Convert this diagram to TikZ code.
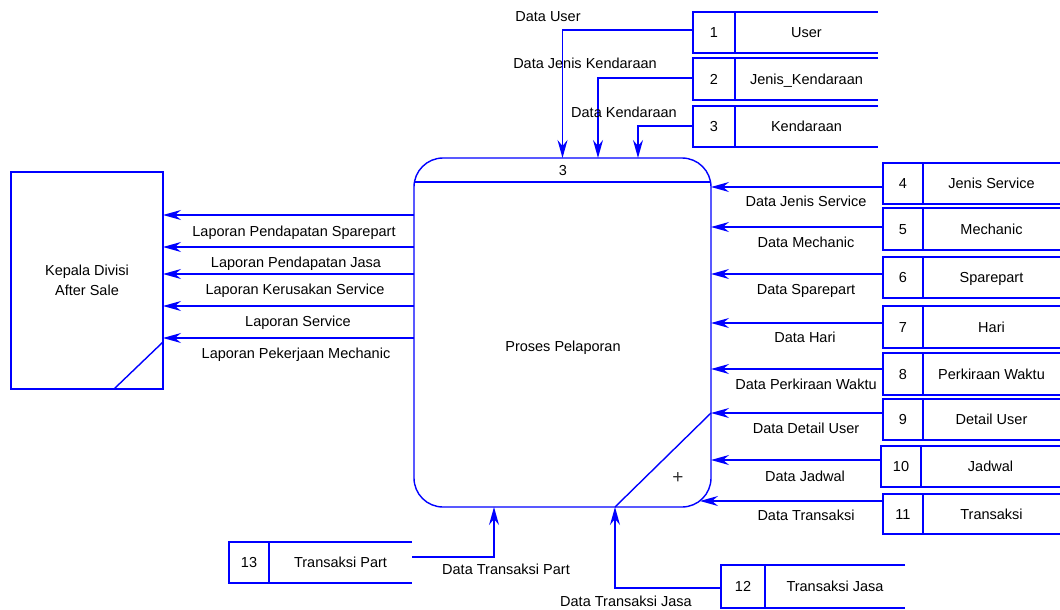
\documentclass[tikz,border=0pt]{standalone}
\usepackage{fontspec}
\setmainfont{Liberation Sans}
\usetikzlibrary{arrows.meta}
\definecolor{dfdblue}{RGB}{0,0,255}

% data store: name, x-left, y-top, x-right, height, divider offset, number, label
\newcommand\dstore[8]{%
  \node[storebox, minimum width={#4-#2}, minimum height={#5}] (#1)
    at ({(#2+#4)/2},{#3+#5/2}) {};
  \draw[blueline] (#1.north east) -- (#1.north west) -- (#1.south west) -- (#1.south east);
  \draw[blueline] ([xshift=#6]#1.north west) -- ([xshift=#6]#1.south west);
  \node[lbl] (#1-n) at ([xshift=#6/2]#1.west) {#7};
  \node[lbl] (#1-l) at ([xshift=#6/2]#1.center) {#8};
}

\begin{document}
\begin{tikzpicture}[x=1pt,y=-1pt,
  every node/.style={font=\fontsize{14.5}{20}\selectfont, inner sep=0pt, outer sep=0pt},
  blueline/.style={draw=dfdblue, line width=1.4pt},
  flow/.style={blueline, -{Stealth[length=18pt,width=10pt,inset=6pt]}},
  storebox/.style={inner sep=0pt, outer sep=0pt},
  lbl/.style={text height=10.4pt, text depth=0pt},
]
\useasboundingbox (0,0) rectangle (1060,610);

% process
\node[blueline, rounded corners=29pt, minimum width=297, minimum height=349] (proc) at (562.5,332.5) {};
\draw[blueline] (proc.west |- 0,182) -- (proc.east |- 0,182);
\draw[blueline] (proc.east |- 0,413) -- (proc.south -| 615,0);
\node[lbl] (proc-id) at (563,170) {3};
\node[lbl] (proc-name) at (563,346) {Proses Pelaporan};
\node[lbl, text=black!80, font=\fontsize{19}{20}\selectfont] (proc-mark) at (678,478) {+};

% external entity
\node[blueline, minimum width=152, minimum height=217, align=center] (ent) at (87,280.5) {Kepala Divisi\\After Sale};
\draw[blueline] (ent.east |- 0,342) -- (ent.south -| 114,0);

% data stores
\dstore{s1}{693}{12}{878}{41}{42}{1}{User}
\dstore{s2}{693}{58}{878}{42}{42}{2}{Jenis\_Kendaraan}
\dstore{s3}{693}{106}{878}{41}{42}{3}{Kendaraan}
\dstore{s4}{883}{163}{1060}{41}{40}{4}{Jenis Service}
\dstore{s5}{883}{208}{1060}{42}{40}{5}{Mechanic}
\dstore{s6}{883}{257}{1060}{41}{40}{6}{Sparepart}
\dstore{s7}{883}{306}{1060}{42}{40}{7}{Hari}
\dstore{s8}{883}{353}{1060}{42}{40}{8}{Perkiraan Waktu}
\dstore{s9}{883}{399}{1060}{41}{40}{9}{Detail User}
\dstore{s10}{881}{446}{1060}{41}{40}{10}{Jadwal}
\dstore{s11}{883}{494}{1060}{40}{40}{11}{Transaksi}
\dstore{s12}{721}{565}{905}{43}{44}{12}{Transaksi Jasa}
\dstore{s13}{229}{542}{412}{41}{40}{13}{Transaksi Part}

% flows into the process from the top
\draw[flow] (s1.west |- 0,30) -| (proc.north);
\draw[flow] (s2.west |- 0,78) -| (proc.north -| 598,0);
\draw[flow] (s3.west |- 0,126) -| (proc.north -| 638,0);
\node[lbl] (f1) at (548,16) {Data User};
\node[lbl] (f2) at (585,63) {Data Jenis Kendaraan};
\node[lbl] (f3) at (624,112) {Data Kendaraan};

% flows into the process from the right
\coordinate (p11) at (700,501);
\draw[flow] (s4.west |- 0,187) -- (proc.east |- 0,187);
\draw[flow] (s5.west |- 0,227) -- (proc.east |- 0,227);
\draw[flow] (s6.west |- 0,274) -- (proc.east |- 0,274);
\draw[flow] (s7.west |- 0,323) -- (proc.east |- 0,323);
\draw[flow] (s8.west |- 0,369) -- (proc.east |- 0,369);
\draw[flow] (s9.west |- 0,413) -- (proc.east |- 0,413);
\draw[flow] (s10.west |- 0,460) -- (proc.east |- 0,460);
\draw[flow] (s11.west |- 0,501) -- (p11);
\node[lbl] (f4) at (806,201) {Data Jenis Service};
\node[lbl] (f5) at (806,242) {Data Mechanic};
\node[lbl] (f6) at (806,289) {Data Sparepart};
\node[lbl] (f7) at (805,337) {Data Hari};
\node[lbl] (f8) at (806,384) {Data Perkiraan Waktu};
\node[lbl] (f9) at (806,428) {Data Detail User};
\node[lbl] (f10) at (805,476) {Data Jadwal};
\node[lbl] (f11) at (806,515) {Data Transaksi};

% flows into the process from the bottom
\draw[flow] (s13.east |- 0,557) -| (proc.south -| 494,0);
\draw[flow] (s12.west |- 0,588) -| (proc.south -| 615,0);
\node[lbl] (f13) at (506,569) {Data Transaksi Part};
\node[lbl] (f12) at (626,601) {Data Transaksi Jasa};

% reports to the external entity
\draw[flow] (proc.west |- 0,215) -- (ent.east |- 0,215);
\draw[flow] (proc.west |- 0,247) -- (ent.east |- 0,247);
\draw[flow] (proc.west |- 0,274) -- (ent.east |- 0,274);
\draw[flow] (proc.west |- 0,306) -- (ent.east |- 0,306);
\draw[flow] (proc.west |- 0,338) -- (ent.east |- 0,338);
\node[lbl] (r1) at (294,231) {Laporan Pendapatan Sparepart};
\node[lbl] (r2) at (296,262) {Laporan Pendapatan Jasa};
\node[lbl] (r3) at (295,289) {Laporan Kerusakan Service};
\node[lbl] (r4) at (298,321) {Laporan Service};
\node[lbl] (r5) at (296,353) {Laporan Pekerjaan Mechanic};
\end{tikzpicture}
\end{document}
